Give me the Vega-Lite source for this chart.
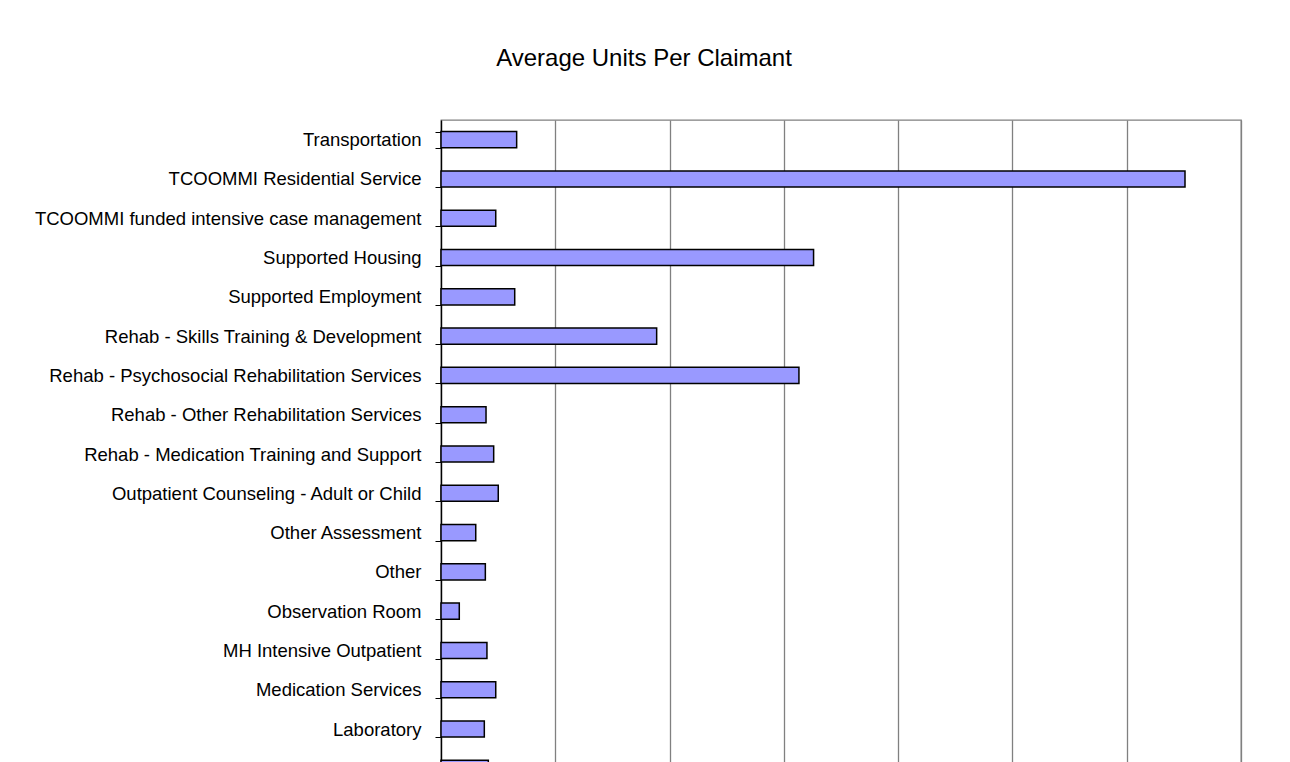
{
  "$schema": "https://vega.github.io/schema/vega-lite/v6.json",
  "autosize": {"type": "none"},
  "width": 800,
  "height": 668,
  "padding": {"left": 441, "top": 120, "right": 49, "bottom": 0},
  "background": "white",
  "title": {
    "text": "Average Units Per Claimant",
    "font": "Liberation Sans",
    "fontSize": 24,
    "fontWeight": "normal",
    "color": "#000000",
    "anchor": "middle",
    "frame": "group",
    "dx": -197,
    "offset": 40
  },
  "config": {
    "view": {"stroke": "#808080", "strokeWidth": 1.3},
    "font": "Liberation Sans"
  },
  "data": {
    "values": [
      {"service": "Transportation", "units": 6.62},
      {"service": "TCOOMMI Residential Service", "units": 65.1},
      {"service": "TCOOMMI funded intensive case management", "units": 4.79},
      {"service": "Supported Housing", "units": 32.6},
      {"service": "Supported Employment", "units": 6.45},
      {"service": "Rehab - Skills Training & Development", "units": 18.87},
      {"service": "Rehab - Psychosocial Rehabilitation Services\u00a0", "units": 31.32},
      {"service": "Rehab - Other Rehabilitation Services\u00a0", "units": 3.94},
      {"service": "Rehab - Medication Training and Support\u00a0", "units": 4.61},
      {"service": "Outpatient Counseling - Adult or Child", "units": 5.01},
      {"service": "Other Assessment", "units": 3.04},
      {"service": "Other", "units": 3.88},
      {"service": "Observation Room", "units": 1.6},
      {"service": "MH Intensive Outpatient", "units": 4.02},
      {"service": "Medication Services", "units": 4.79},
      {"service": "Laboratory", "units": 3.79},
      {"service": "Jail Diversion", "units": 4.14}
    ]
  },
  "mark": {"type": "bar", "color": "#9999FF", "stroke": "#000000", "strokeWidth": 1.5},
  "encoding": {
    "y": {
      "field": "service",
      "type": "nominal",
      "sort": null,
      "scale": {"paddingInner": 0.59, "paddingOuter": 0.295},
      "axis": {
        "title": null,
        "labelFont": "Liberation Sans",
        "labelFontSize": 18.5,
        "labelColor": "#000000",
        "labelPadding": 14,
        "labelLimit": 700,
        "tickBand": "extent",
        "tickSize": 6,
        "tickColor": "#000000",
        "domainColor": "#000000",
        "domainWidth": 1.3,
        "grid": false
      }
    },
    "x": {
      "field": "units",
      "type": "quantitative",
      "scale": {"domain": [0, 70], "nice": false},
      "axis": {
        "title": null,
        "values": [0, 10, 20, 30, 40, 50, 60, 70],
        "grid": true,
        "gridColor": "#808080",
        "gridWidth": 1.3,
        "gridOpacity": 1,
        "labels": false,
        "ticks": false,
        "domain": false
      }
    }
  }
}
